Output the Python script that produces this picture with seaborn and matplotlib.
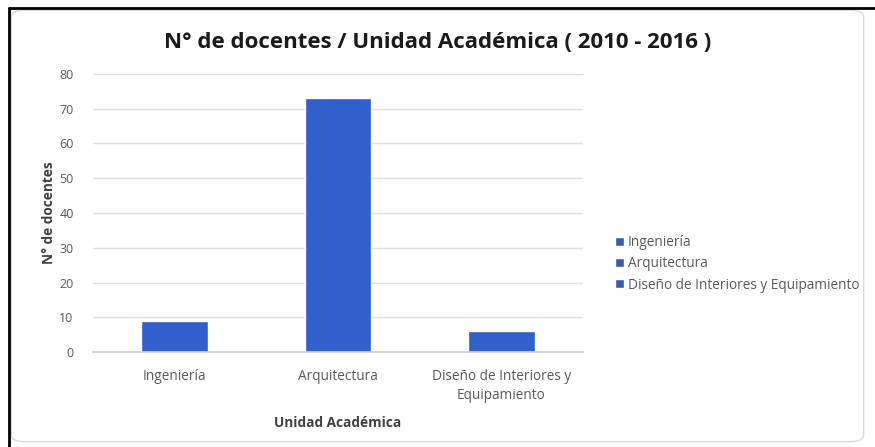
import matplotlib
matplotlib.use("Agg")
import matplotlib.pyplot as plt
from matplotlib.patches import FancyBboxPatch
from matplotlib.lines import Line2D
import seaborn as sns
import pandas as pd

categorias = ["Ingeniería", "Arquitectura", "Diseño de Interiores y Equipamiento"]
etiquetas_x = ["Ingeniería", "Arquitectura", "Diseño de Interiores y\nEquipamiento"]
docentes = [9, 73, 6]
yticks = [0, 10, 20, 30, 40, 50, 60, 70, 80]

azul = "#2F60CC"
gris_texto = "#595959"

sns.set_theme(style="white")
plt.rcParams["font.family"] = ["Open Sans", "DejaVu Sans"]

df = pd.DataFrame({"unidad": categorias, "docentes": docentes})

fig = plt.figure(figsize=(8.75, 4.47), dpi=100)
ax = fig.add_axes([0.1063, 0.2125, 0.56, 0.622])

sns.barplot(data=df, x="unidad", y="docentes", hue="unidad",
            palette=[azul] * 3, dodge=False, width=0.41, legend=True, ax=ax,
            saturation=1)

ax.set_ylim(0, 80)
ax.set_xlim(-0.5, 2.5)
ax.set_yticks(yticks)
ax.set_yticklabels([str(v) for v in yticks], fontsize=9, color=gris_texto)
ax.set_xticks(range(len(etiquetas_x)))
ax.set_xticklabels(etiquetas_x, fontsize=9.8, color=gris_texto, linespacing=1.4)
ax.tick_params(axis="x", length=0, pad=12)
ax.tick_params(axis="y", length=0, pad=14)
ax.set_xticks([-0.5, 0.5, 1.5, 2.5], minor=True)
ax.tick_params(axis="x", which="minor", length=5, color="#d0d0d0", width=1, direction="out")

ax.yaxis.grid(True, color="#e0e0e0", linewidth=1)
ax.set_axisbelow(True)
for s in ["top", "right", "left"]:
    ax.spines[s].set_visible(False)
ax.spines["bottom"].set_color("#d0d0d0")

ax.set_xlabel("Unidad Académica", fontsize=9.8, fontweight="bold", color="#404040", labelpad=9)
ax.set_ylabel("N° de docentes", fontsize=9.8, fontweight="bold", color="#404040", labelpad=2)

leg = ax.legend(loc="center left", bbox_to_anchor=(1.055, 0.317), frameon=False,
                fontsize=9.8, handlelength=0.6, handleheight=0.6, handletextpad=0.3,
                labelspacing=0.45, labelcolor=gris_texto, borderaxespad=0)
for h in leg.legend_handles:
    h.set_facecolor("#3a5ba8")

fig.text(0.5, 0.905, "N° de docentes / Unidad Académica ( 2010 - 2016 )",
         ha="center", va="center", fontsize=16, fontweight="bold", color="#1a1a1a")

# panel frame
fig.patches.append(FancyBboxPatch((0.013, 0.012), 0.974, 0.965,
                                  boxstyle="round,pad=0,rounding_size=0.015",
                                  transform=fig.transFigure, facecolor="none",
                                  edgecolor="#d9d9d9", linewidth=1))
fig.lines.append(Line2D([0.0103, 0.0103], [0.0, 0.982], transform=fig.transFigure,
                        color="black", linewidth=2))
fig.lines.append(Line2D([0.0103, 1.0], [0.982, 0.982], transform=fig.transFigure,
                        color="black", linewidth=2))

fig.savefig("out.png", dpi=100)
